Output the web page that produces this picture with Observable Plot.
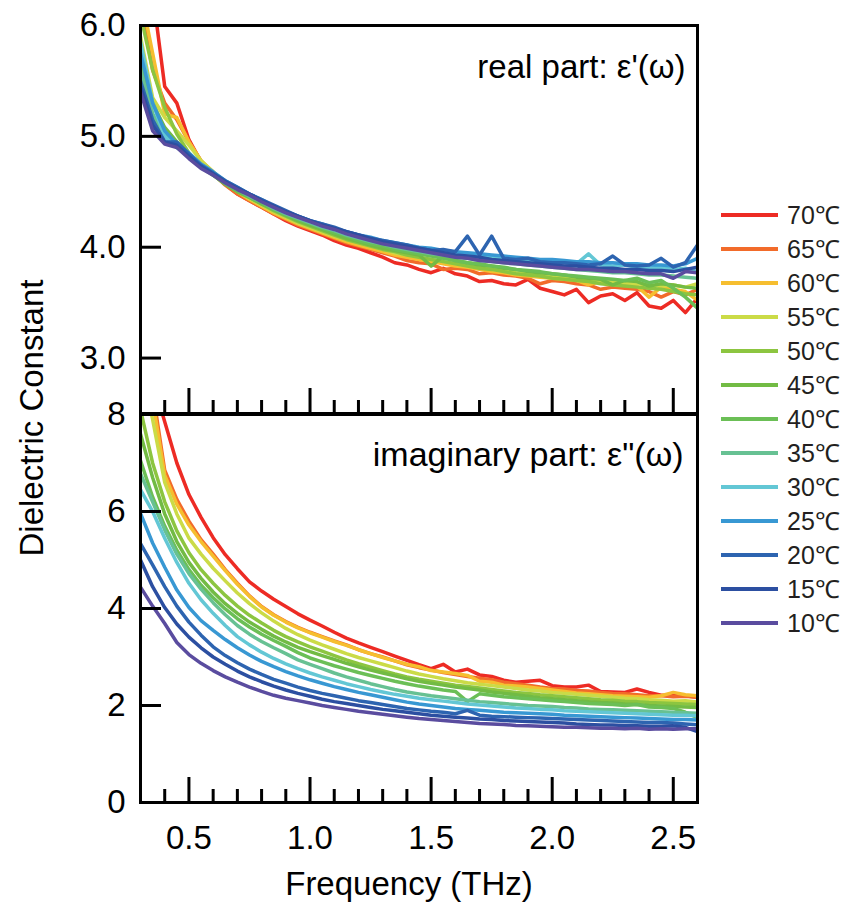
<!DOCTYPE html>
<html>
<head>
<meta charset="utf-8">
<script src="https://cdn.jsdelivr.net/npm/d3@7"></script>
<script src="https://cdn.jsdelivr.net/npm/@observablehq/plot@0.6"></script>
<style>
  html, body { margin: 0; padding: 0; background: #fff; }
  #wrap { position: relative; width: 842px; height: 902px; font-family: "Liberation Sans", Arial, sans-serif; color: #000; overflow: hidden; }
  #wrap svg { position: absolute; left: 0; top: 0; }
  .ytitle { position: absolute; left: 31px; top: 418px; transform: translate(-50%, -50%) rotate(-90deg); font-size: 33px; line-height: 1; white-space: nowrap; }
  .lg-sw { position: absolute; left: 721px; width: 57px; height: 4px; }
  .lg-tx { position: absolute; left: 787px; font-size: 25px; line-height: 25px; color: #231f20; white-space: nowrap; }
</style>
</head>
<body>
<div id="wrap"></div>
<script>
// ---------- data ----------
const freq = [0.30,0.35,0.40,0.45,0.50,0.55,0.60,0.65,0.70,0.75,0.80,0.85,0.90,0.95,1.00,
  1.05,1.10,1.15,1.20,1.25,1.30,1.35,1.40,1.45,1.50,1.55,1.60,1.65,1.70,1.75,1.80,1.85,1.90,1.95,2.00,
  2.05,2.10,2.15,2.20,2.25,2.30,2.35,2.40,2.45,2.50,2.55,2.60];

const temps = [70, 65, 60, 55, 50, 45, 40, 35, 30, 25, 20, 15, 10];
const tempLabels = ["70℃","65℃","60℃","55℃","50℃","45℃","40℃","35℃","30℃","25℃","20℃","15℃","10℃"];
const colors = ["#ED2B24","#F26B2A","#F6BE2F","#CBDB47","#8CC540","#72BB44","#6BBF56","#67C193","#63C7D5","#3898D3","#2D64B0","#2C4FA1","#5A4C9F"];

// real part ε'(ω)
const re70 = [7.0,6.3,5.45,5.30,4.97,4.77,4.66,4.57,4.48,4.42,4.36,4.30,4.24,4.19,4.15,
  4.11,4.06,4.02,3.99,3.95,3.91,3.86,3.84,3.80,3.77,3.81,3.76,3.74,3.69,3.70,3.67,3.66,3.71,3.63,3.60,
  3.57,3.62,3.50,3.56,3.58,3.52,3.59,3.47,3.45,3.52,3.41,3.54];
const re65 = [6.2,5.6,5.3,5.15,4.95,4.78,4.66,4.56,4.48,4.42,4.36,4.30,4.25,4.20,4.16,
  4.12,4.08,4.04,4.01,3.98,3.95,3.92,3.88,3.86,3.85,3.80,3.81,3.80,3.76,3.77,3.75,3.74,3.72,3.67,3.70,
  3.69,3.67,3.66,3.62,3.64,3.63,3.62,3.60,3.55,3.60,3.57,3.62];
const re60 = [6.3,5.75,5.2,5.17,4.95,4.78,4.68,4.58,4.50,4.43,4.37,4.31,4.26,4.21,4.17,
  4.13,4.09,4.05,4.02,3.99,3.96,3.93,3.91,3.89,3.87,3.85,3.83,3.82,3.80,3.78,3.77,3.75,3.74,3.73,3.72,
  3.71,3.70,3.66,3.69,3.67,3.66,3.65,3.55,3.64,3.62,3.60,3.52];
const re55 = [5.9,5.35,5.17,5.05,4.92,4.78,4.68,4.58,4.51,4.44,4.38,4.32,4.27,4.22,4.18,
  4.14,4.10,4.07,4.04,4.01,3.98,3.95,3.93,3.91,3.89,3.87,3.85,3.83,3.82,3.80,3.79,3.77,3.76,3.75,3.74,
  3.73,3.72,3.71,3.70,3.69,3.68,3.67,3.66,3.65,3.66,3.64,3.67];
const re50 = [6.1,5.6,5.26,5.02,4.85,4.74,4.66,4.58,4.51,4.45,4.39,4.33,4.28,4.23,4.19,
  4.15,4.11,4.07,4.04,4.01,3.98,3.96,3.93,3.91,3.89,3.87,3.85,3.83,3.81,3.80,3.78,3.76,3.75,3.74,3.72,
  3.71,3.70,3.69,3.67,3.66,3.65,3.64,3.63,3.62,3.60,3.58,3.57];
const re45 = [5.8,5.3,5.08,4.95,4.84,4.73,4.65,4.57,4.50,4.45,4.39,4.34,4.29,4.24,4.20,
  4.16,4.12,4.08,4.05,4.02,3.99,3.97,3.95,3.93,3.83,3.92,3.88,3.86,3.84,3.83,3.81,3.80,3.78,3.77,3.76,
  3.75,3.73,3.72,3.71,3.66,3.70,3.69,3.65,3.67,3.66,3.64,3.63];
const re40 = [5.7,5.2,5.0,4.92,4.82,4.72,4.65,4.57,4.51,4.45,4.40,4.34,4.29,4.25,4.21,
  4.17,4.13,4.10,4.06,4.03,4.01,3.98,3.96,3.94,3.92,3.90,3.88,3.86,3.85,3.83,3.82,3.80,3.79,3.78,3.76,
  3.75,3.74,3.73,3.72,3.71,3.70,3.72,3.68,3.70,3.63,3.55,3.45];
const re35 = [5.6,5.2,5.02,4.9,4.82,4.73,4.66,4.58,4.52,4.46,4.41,4.35,4.30,4.26,4.22,
  4.18,4.15,4.11,4.08,4.05,4.03,4.00,3.98,3.96,3.94,3.93,3.91,3.90,3.88,3.87,3.86,3.85,3.84,3.83,3.82,
  3.81,3.80,3.79,3.78,3.77,3.77,3.76,3.75,3.75,3.74,3.73,3.72];
const re30 = [5.86,5.3,5.0,4.9,4.83,4.74,4.67,4.59,4.53,4.47,4.42,4.36,4.31,4.27,4.23,
  4.19,4.16,4.12,4.09,4.07,4.04,4.02,4.00,3.98,3.97,3.96,3.95,3.94,3.92,3.91,3.90,3.89,3.88,3.87,3.88,
  3.86,3.85,3.94,3.84,3.83,3.84,3.82,3.81,3.82,3.80,3.81,3.78];
const re25 = [5.75,5.3,5.05,4.93,4.85,4.75,4.68,4.60,4.54,4.48,4.43,4.37,4.32,4.28,4.24,
  4.21,4.17,4.14,4.11,4.09,4.06,4.04,4.02,4.00,3.99,3.97,3.96,3.95,3.94,3.93,3.92,3.91,3.90,3.89,3.89,
  3.88,3.87,3.87,3.86,3.86,3.85,3.85,3.84,3.84,3.83,3.85,3.90];
const re20 = [5.5,5.15,4.95,4.95,4.84,4.74,4.67,4.60,4.54,4.48,4.43,4.38,4.33,4.28,4.24,
  4.21,4.18,4.14,4.11,4.08,4.06,4.04,4.02,3.99,3.97,3.98,3.96,4.10,3.93,4.10,3.90,3.89,3.90,3.87,3.86,
  3.86,3.85,3.84,3.85,3.92,3.84,3.83,3.84,3.90,3.82,3.86,4.02];
const re15 = [5.45,5.1,4.95,4.92,4.82,4.73,4.66,4.59,4.53,4.48,4.42,4.37,4.32,4.28,4.24,
  4.20,4.17,4.14,4.11,4.08,4.05,4.03,4.01,3.99,3.97,3.95,3.93,3.92,3.91,3.89,3.88,3.87,3.86,3.85,3.84,
  3.83,3.83,3.82,3.81,3.81,3.80,3.80,3.79,3.79,3.78,3.80,3.82];
const re10 = [5.4,5.05,4.93,4.9,4.80,4.71,4.65,4.58,4.52,4.47,4.41,4.36,4.31,4.27,4.23,
  4.19,4.16,4.12,4.09,4.06,4.03,4.01,3.99,3.97,3.95,3.93,3.91,3.90,3.88,3.87,3.86,3.85,3.84,3.83,3.82,
  3.81,3.80,3.80,3.79,3.78,3.78,3.77,3.76,3.76,3.72,3.78,3.77];

// imaginary part ε''(ω)
const im70 = [9.5,8.7,7.85,7.0,6.35,5.88,5.46,5.11,4.82,4.55,4.36,4.19,4.04,3.89,3.76,
  3.64,3.51,3.39,3.29,3.20,3.11,3.02,2.93,2.84,2.76,2.85,2.69,2.75,2.63,2.60,2.52,2.48,2.50,2.52,2.41,
  2.38,2.38,2.42,2.29,2.28,2.27,2.34,2.27,2.21,2.21,2.20,2.17];
const im65 = [10.0,8.5,6.85,6.25,5.80,5.42,5.12,4.80,4.52,4.26,4.04,3.87,3.73,3.61,3.51,
  3.42,3.33,3.25,3.15,3.07,3.00,2.92,2.84,2.78,2.73,2.68,2.64,2.60,2.56,2.53,2.48,2.45,2.42,2.38,2.35,
  2.34,2.31,2.30,2.27,2.25,2.24,2.22,2.20,2.20,2.18,2.19,2.17];
const im60 = [9.8,8.3,6.75,6.15,5.72,5.38,5.08,4.78,4.50,4.25,4.03,3.86,3.72,3.60,3.50,
  3.41,3.32,3.24,3.15,3.07,2.99,2.92,2.85,2.80,2.72,2.69,2.66,2.62,2.50,2.48,2.42,2.40,2.38,2.35,2.32,
  2.29,2.26,2.24,2.22,2.20,2.19,2.18,2.17,2.20,2.27,2.22,2.20];
const im55 = [9.0,7.9,6.6,5.95,5.45,5.12,4.83,4.57,4.32,4.10,3.91,3.74,3.59,3.46,3.35,
  3.25,3.16,3.07,2.99,2.92,2.85,2.78,2.71,2.65,2.60,2.55,2.51,2.47,2.44,2.41,2.38,2.35,2.32,2.30,2.27,
  2.25,2.23,2.21,2.19,2.17,2.15,2.14,2.12,2.11,2.09,2.10,2.07];
const im50 = [8.1,7.0,6.2,5.6,5.15,4.80,4.52,4.27,4.05,3.86,3.70,3.55,3.42,3.31,3.21,
  3.12,3.03,2.94,2.86,2.79,2.72,2.65,2.59,2.54,2.50,2.46,2.42,2.39,2.36,2.33,2.30,2.27,2.25,2.22,2.20,
  2.18,2.16,2.14,2.12,2.11,2.09,2.08,2.06,2.05,2.04,2.03,2.02];
const im45 = [7.6,6.7,5.95,5.38,4.95,4.62,4.34,4.10,3.90,3.72,3.57,3.43,3.31,3.20,3.11,
  3.03,2.95,2.87,2.80,2.73,2.67,2.61,2.55,2.50,2.46,2.42,2.38,2.35,2.32,2.28,2.25,2.22,2.19,2.16,2.14,
  2.12,2.10,2.08,2.06,2.05,2.03,2.02,2.00,1.99,1.98,1.97,1.96];
const im40 = [7.05,6.3,5.7,5.2,4.8,4.48,4.22,3.99,3.79,3.62,3.47,3.34,3.22,3.09,2.98,
  2.90,2.82,2.75,2.68,2.62,2.56,2.50,2.45,2.40,2.36,2.32,2.29,2.08,2.24,2.21,2.18,2.16,2.14,2.12,2.10,
  2.08,2.06,2.04,2.03,2.02,2.00,2.02,1.97,1.96,1.94,1.86,1.75];
const im35 = [6.78,6.2,5.62,5.12,4.72,4.40,4.12,3.87,3.65,3.47,3.32,3.19,3.07,2.94,2.85,
  2.76,2.67,2.59,2.52,2.45,2.39,2.33,2.28,2.24,2.20,2.17,2.14,2.11,2.08,2.06,2.04,2.02,2.00,1.99,1.98,
  1.96,1.95,1.93,1.92,1.91,1.90,1.89,1.88,1.87,1.86,1.85,1.84];
const im30 = [6.45,6.0,5.45,4.95,4.52,4.18,3.90,3.65,3.42,3.25,3.10,2.97,2.86,2.76,2.67,
  2.59,2.52,2.45,2.39,2.33,2.28,2.23,2.19,2.15,2.12,2.09,2.06,2.03,2.01,1.99,1.97,1.95,1.94,1.92,1.91,
  1.89,1.88,1.87,1.86,1.85,1.84,1.83,1.82,1.81,1.80,1.80,1.79];
const im25 = [5.96,5.35,4.85,4.38,4.02,3.75,3.55,3.36,3.19,3.04,2.91,2.80,2.70,2.61,2.53,
  2.46,2.39,2.33,2.27,2.22,2.17,2.12,2.07,2.03,2.00,1.97,1.94,1.92,1.90,1.88,1.86,1.85,1.84,1.83,1.82,
  1.80,1.79,1.78,1.77,1.76,1.75,1.74,1.73,1.72,1.71,1.71,1.70];
const im20 = [5.34,4.9,4.45,4.05,3.72,3.45,3.21,3.03,2.88,2.75,2.64,2.54,2.46,2.38,2.31,
  2.25,2.20,2.15,2.10,2.06,2.02,1.98,1.94,1.91,1.88,1.86,1.83,1.90,1.80,1.78,1.77,1.76,1.75,1.74,1.73,
  1.72,1.71,1.70,1.69,1.68,1.67,1.66,1.65,1.65,1.64,1.62,1.60];
const im15 = [5.0,4.45,4.02,3.68,3.41,3.19,3.00,2.85,2.71,2.59,2.49,2.40,2.32,2.25,2.19,
  2.13,2.08,2.04,2.00,1.96,1.92,1.89,1.86,1.83,1.80,1.78,1.76,1.74,1.72,1.71,1.69,1.68,1.67,1.66,1.65,
  1.64,1.62,1.61,1.60,1.60,1.59,1.58,1.57,1.57,1.58,1.55,1.46];
const im10 = [4.44,4.05,3.69,3.30,3.05,2.87,2.72,2.59,2.48,2.38,2.29,2.21,2.15,2.10,2.05,
  2.00,1.96,1.92,1.88,1.85,1.82,1.79,1.76,1.73,1.71,1.69,1.67,1.65,1.63,1.62,1.61,1.59,1.58,1.57,1.56,
  1.55,1.55,1.54,1.53,1.53,1.52,1.53,1.51,1.52,1.51,1.52,1.52];

const realSeries = [re70, re65, re60, re55, re50, re45, re40, re35, re30, re25, re20, re15, re10];
const imagSeries = [im70, im65, im60, im55, im50, im45, im40, im35, im30, im25, im20, im15, im10];

// ticks
const xMajorTicks = [0.5, 1.0, 1.5, 2.0, 2.5];
const xMinorTicks = [0.4, 0.6, 0.7, 0.8, 0.9, 1.1, 1.2, 1.3, 1.4, 1.6, 1.7, 1.8, 1.9, 2.1, 2.2, 2.3, 2.4, 2.6];
const yTicksReal = [3.0, 4.0, 5.0, 6.0];
const yTicksImag = [0, 2, 4, 6, 8];
const realLabel = "real part: ε'(ω)";
const imagLabel = "imaginary part: ε\"(ω)";
const xTitle = "Frequency (THz)";
const yTitle = "Dielectric Constant";

// ---------- build ----------
function toRows(series) {
  const out = [];
  series.forEach((s, i) => s.forEach((v, j) => out.push({f: freq[j], v, t: temps[i]})));
  return out;
}

const W = 842, H = 902;
const FONT = '"Liberation Sans", Arial, sans-serif';
const base = {
  width: W, height: H, marginLeft: 140, marginRight: 145,
  x: {domain: [0.3, 2.6]},
  color: {type: "ordinal", domain: temps, range: colors},
  style: {background: "transparent", fontFamily: FONT, fontSize: "33px", color: "#000", overflow: "visible"}
};

const lineOpts = {x: "f", y: "v", z: "t", stroke: "t", strokeWidth: 3.5, strokeLinejoin: "round", clip: true};

const bottomPlot = Plot.plot({
  ...base,
  marginTop: 414, marginBottom: H - 802,
  y: {domain: [0, 8]},
  marks: [
    Plot.line(toRows(imagSeries), lineOpts),
    Plot.axisX(xMajorTicks, {tickSize: -25, strokeWidth: 3, tickFormat: () => "", label: null}),
    Plot.axisX(xMinorTicks, {tickSize: -13, strokeWidth: 3, tickFormat: () => "", label: null}),
    Plot.axisX(xMajorTicks, {tickSize: 0, tickPadding: 23, tickFormat: d => d.toFixed(1), label: null, fontSize: 33}),
    Plot.axisY(yTicksImag, {tickSize: -21, strokeWidth: 3, tickFormat: () => "", label: null}),
    Plot.axisY(yTicksImag, {tickSize: 0, tickPadding: 15, tickFormat: d => String(d), label: null, fontSize: 33}),
    Plot.frame({stroke: "#000", strokeWidth: 3}),
    Plot.text([imagLabel], {frameAnchor: "top-right", textAnchor: "end", lineAnchor: "middle", dx: -14, dy: 41, fontSize: 34, fill: "#000"}),
    Plot.text([xTitle], {frameAnchor: "bottom", textAnchor: "middle", lineAnchor: "middle", dx: -10, dy: 82, fontSize: 33, fill: "#000"})
  ]
});

const topPlot = Plot.plot({
  ...base,
  marginTop: 25, marginBottom: H - 413,
  y: {domain: [2.5, 6.0]},
  marks: [
    Plot.line(toRows(realSeries), lineOpts),
    Plot.axisX(xMajorTicks, {tickSize: -25, strokeWidth: 3, tickFormat: () => "", label: null}),
    Plot.axisX(xMinorTicks, {tickSize: -13, strokeWidth: 3, tickFormat: () => "", label: null}),
    Plot.axisY(yTicksReal, {tickSize: -21, strokeWidth: 3, tickFormat: () => "", label: null}),
    Plot.axisY(yTicksReal, {tickSize: 0, tickPadding: 15, tickFormat: d => d.toFixed(1), label: null, fontSize: 33}),
    Plot.frame({stroke: "#000", strokeWidth: 3}),
    Plot.text([realLabel], {frameAnchor: "top-right", textAnchor: "end", lineAnchor: "middle", dx: -12, dy: 42, fontSize: 33, fill: "#000"})
  ]
});

const wrap = document.getElementById("wrap");
wrap.appendChild(bottomPlot);
wrap.appendChild(topPlot);

const yt = document.createElement("div");
yt.className = "ytitle";
yt.textContent = yTitle;
wrap.appendChild(yt);

// legend
temps.forEach((t, i) => {
  const cy = 215 + 34 * i;
  const sw = document.createElement("div");
  sw.className = "lg-sw";
  sw.style.top = (cy - 2) + "px";
  sw.style.background = colors[i];
  wrap.appendChild(sw);
  const tx = document.createElement("div");
  tx.className = "lg-tx";
  tx.style.top = (cy - 12) + "px";
  tx.textContent = tempLabels[i];
  wrap.appendChild(tx);
});
</script>
</body>
</html>
